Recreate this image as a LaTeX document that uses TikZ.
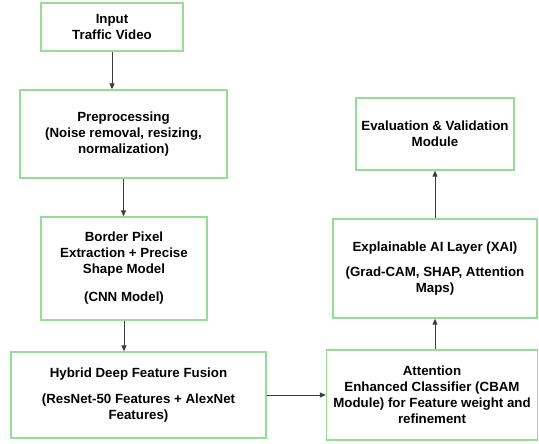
\documentclass[tikz,border=0pt]{standalone}
\usepackage{fontspec}
\setmainfont{Liberation Sans}
\usepackage{xcolor}
\usepackage{tikz}
\usetikzlibrary{arrows.meta,calc}

\definecolor{boxgreen}{HTML}{96DE96}
\definecolor{arrowgray}{HTML}{3C3C3C}

\begin{document}
\begin{tikzpicture}
    [
      x=1pt, y=-1pt,
      stage/.style = {draw=boxgreen, line width=1.3pt, fill=white, align=center,
                      font=\bfseries\fontsize{13.3}{16}\selectfont, inner sep=0pt},
      flow/.style  = {draw=arrowgray, line width=0.9pt, -{Triangle[length=6pt,width=5pt]}},
    ]
    \useasboundingbox (0,0) rectangle (539,444);

    % left column
    \node[stage, minimum width=142pt, minimum height=48pt] (input) at (112,27)
      {Input\\Traffic Video};
    \node[stage, minimum width=207pt, minimum height=88pt] (prep) at (123.5,134)
      {Preprocessing\\(Noise removal, resizing,\\normalization)};
    \node[stage, minimum width=166pt, minimum height=103pt] (border) at (124,268.5)
      {Border Pixel\\Extraction + Precise\\Shape Model\\[12pt](CNN Model)};
    \node[stage, minimum width=255pt, minimum height=86pt] (fusion) at (138.5,395)
      {Hybrid Deep Feature Fusion\\[10pt](ResNet-50 Features + AlexNet\\Features)};

    % right column
    \node[stage, minimum width=211pt, minimum height=90pt] (cbam) at (432,395)
      {Attention\\Enhanced Classifier (CBAM\\Module) for Feature weight and\\refinement};
    \node[stage, minimum width=204pt, minimum height=99pt] (xai) at (435,268.5)
      {Explainable AI Layer (XAI)\\[9pt](Grad-CAM, SHAP, Attention\\Maps)};
    \node[stage, minimum width=158pt, minimum height=72pt] (eval) at (435,134)
      {Evaluation \& Validation\\Module};

    % connectors
    \draw[flow] (input.south) -- (input.south |- prep.north);
    \draw[flow] (prep.south) -- (prep.south |- border.north);
    \draw[flow] (border.south) -- (border.south |- fusion.north);
    \draw[flow] (fusion.east) -- (cbam.west);
    \draw[flow] (xai.south |- cbam.north) -- (xai.south);
    \draw[flow] (xai.north) -- (eval.south);
\end{tikzpicture}
\end{document}
